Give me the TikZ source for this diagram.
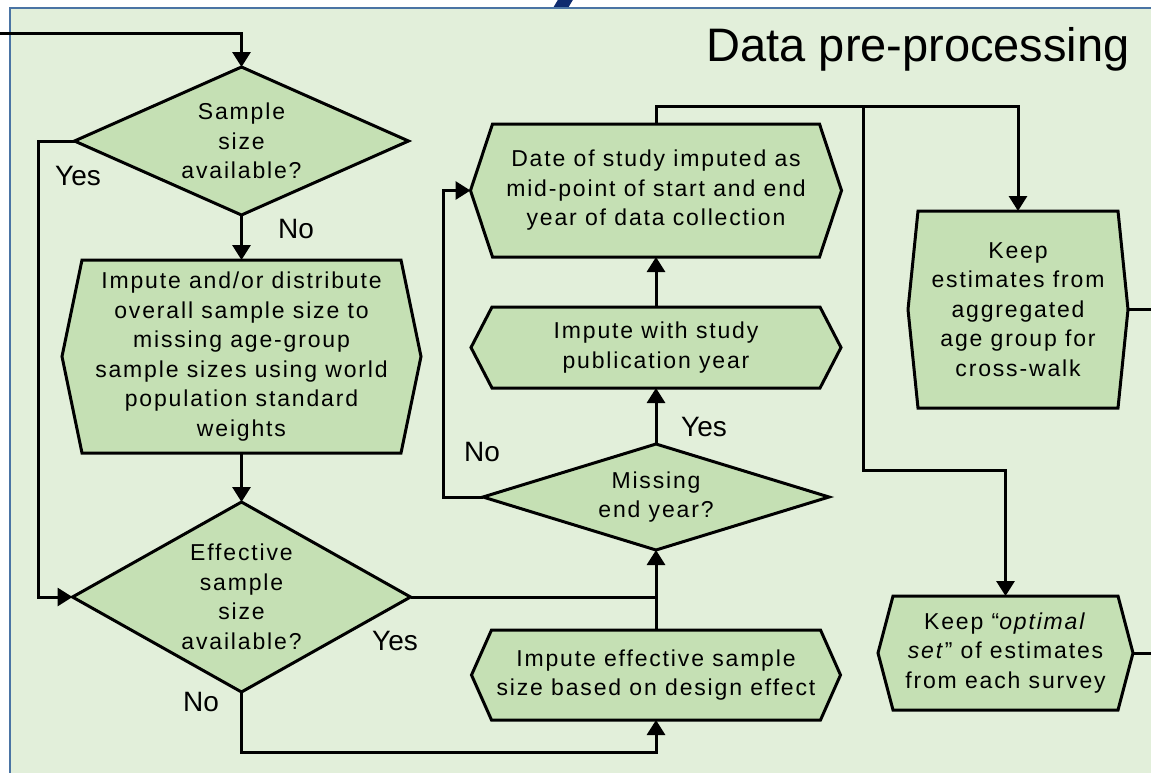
\documentclass[tikz,border=0pt]{standalone}
\usepackage{fontspec}
\setmainfont{Liberation Sans}
\newfontfamily\boxfont{Liberation Sans}[LetterSpace=8]
\usetikzlibrary{arrows.meta}
\pgfdeclarelayer{back}
\pgfdeclarelayer{shapes}
\pgfsetlayers{back,shapes,main}

\definecolor{panelgreen}{HTML}{E2EFDA}
\definecolor{boxgreen}{HTML}{C5E0B4}
\definecolor{panelblue}{HTML}{4A74A4}
\definecolor{navy}{HTML}{0E2A6E}

\tikzset{
  shapeline/.style={fill=boxgreen, draw=black, line width=3pt, line join=miter},
  boxtext/.style={inner sep=0pt, outer sep=0pt, align=center,
    font=\boxfont\fontsize{23}{29.5}\selectfont},
  flow/.style={draw=black, line width=3pt},
  arr/.style={flow, -{Triangle[length=15pt,width=18pt]}},
  answer/.style={inner sep=0pt, outer sep=0pt, font=\fontsize{28}{30}\selectfont},
}

% hexagon with pointed left and right sides behind a named node
\newcommand\hexfill[2]{%
  \begin{pgfonlayer}{shapes}
    \filldraw[shapeline] ([xshift=#2]#1.north west) -- ([xshift=-#2]#1.north east)
      -- (#1.east) -- ([xshift=-#2]#1.south east) -- ([xshift=#2]#1.south west)
      -- (#1.west) -- cycle;
  \end{pgfonlayer}}
% decision diamond behind a named node
\newcommand\diafill[1]{%
  \begin{pgfonlayer}{shapes}
    \filldraw[shapeline] (#1.north) -- (#1.east) -- (#1.south) -- (#1.west) -- cycle;
  \end{pgfonlayer}}

\begin{document}
\begin{tikzpicture}[x=1pt,y=-1pt]
\useasboundingbox (0,0) rectangle (1151,772);

% panel
\begin{pgfonlayer}{back}
  \fill[white] (0,0) rectangle (1151,772);
  \fill[navy] (553,8) -- (559,-2) -- (574,-2) -- (568,8) -- cycle;
  \fill[panelgreen] (10,8) rectangle (1170,790);
  \draw[panelblue, line width=2.5pt] (10,790) -- (10,8) -- (1170,8);
\end{pgfonlayer}

\node[anchor=base east, inner sep=0pt, font=\fontsize{47}{50}\selectfont] (title)
  at (1130,61) {Data pre-processing};

% steps
\node[boxtext, minimum width=334pt, minimum height=148pt] (d1) at (241.5,141)
  {Sample\\size\\available?};
\diafill{d1}

\node[boxtext, minimum width=359pt, minimum height=193pt] (b1) at (241.5,356.5)
  {Impute and/or distribute\\overall sample size to\\missing age-group\\sample sizes using world\\population standard\\weights};
\hexfill{b1}{20pt}

\node[boxtext, minimum width=338pt, minimum height=190pt] (d2) at (241.5,597)
  {Effective\\sample\\size\\available?};
\diafill{d2}

\node[boxtext, minimum width=369pt, minimum height=90pt] (e1) at (656,675)
  {Impute effective sample\\size based on design effect};
\hexfill{e1}{20pt}

\node[boxtext, minimum width=346pt, minimum height=106pt] (m) at (656,497)
  {Missing\\end year?};
\diafill{m}

\node[boxtext, minimum width=370pt, minimum height=81pt] (s) at (656,347.5)
  {Impute with study\\publication year};
\hexfill{s}{21pt}

\node[boxtext, minimum width=371pt, minimum height=133pt] (dt) at (656,190.5)
  {Date of study imputed as\\mid-point of start and end\\year of data collection};
\hexfill{dt}{22pt}

\node[boxtext, minimum width=220pt, minimum height=197pt] (k1) at (1018,309.5)
  {Keep\\estimates from\\aggregated\\age group for\\cross-walk};
\hexfill{k1}{10pt}

\node[boxtext, minimum width=255pt, minimum height=114pt] (k2) at (1005.5,653)
  {Keep “\textit{optimal}\\\textit{set}” of estimates\\from each survey};
\hexfill{k2}{15pt}

% routing points
\coordinate (inL) at (0,33);
\coordinate (ylft) at (38,0);
\coordinate (bot) at (0,752);
\coordinate (nlft) at (443,0);
\coordinate (top) at (0,106);
\coordinate (br) at (863,106);
\coordinate (mid) at (0,470);
\coordinate (redge) at (1165,0);

% connectors
\draw[arr] (inL) -| (d1.north);
\draw[arr] (d1.south) -- (b1.north);
\draw[arr] (d1.west) -| (ylft |- d2.west) -- (d2.west);
\draw[arr] (b1.south) -- (d2.north);
\draw[arr] (d2.south) -- (d2.south |- bot) -| (e1.south);
\draw[flow] (d2.east) -- (d2.east -| e1.north);
\draw[arr] (e1.north) -- (m.south);
\draw[arr] (m.north) -- (s.south);
\draw[arr] (s.north) -- (dt.south);
\draw[arr] (m.west) -- (nlft |- m.west) |- (dt.west);
\draw[arr] (dt.north) -- (dt.north |- top) -| (k1.north);
\draw[arr] (br) -- (br |- mid) -| (k2.north);
\draw[flow] (k1.east) -- (k1.east -| redge);
\draw[flow] (k2.east) -- (k2.east -| redge);

% answers
\node[answer] (yes1) at (78,176) {Yes};
\node[answer] (no1) at (296,229) {No};
\node[answer] (yes2) at (395,641) {Yes};
\node[answer] (no2) at (201,702) {No};
\node[answer] (yes3) at (704,427) {Yes};
\node[answer] (no3) at (482,452) {No};
\end{tikzpicture}
\end{document}
